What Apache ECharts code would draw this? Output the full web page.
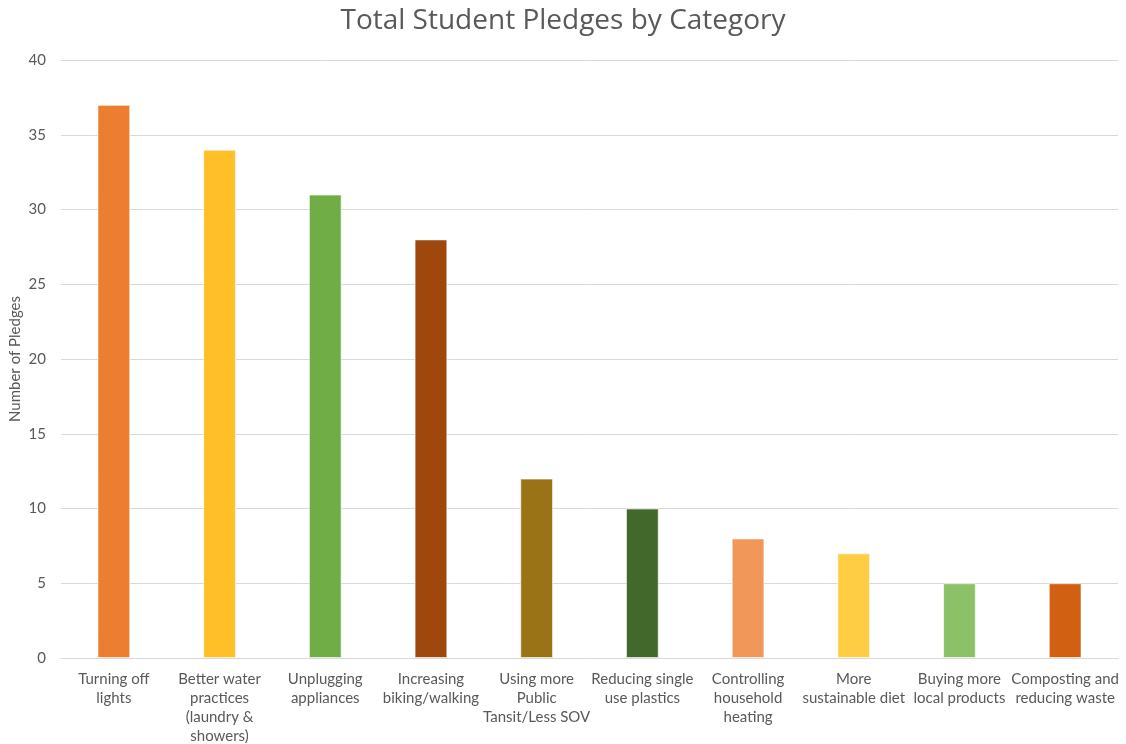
<!DOCTYPE html>
<html><head><meta charset="utf-8">
<script src="https://cdn.jsdelivr.net/npm/echarts@6/dist/echarts.min.js"></script>
<style>html,body{margin:0;padding:0;background:#fff}#c{width:1126px;height:744px}</style>
</head><body><div id="c"></div>
<script>
const categories = [
  'Turning off\nlights',
  'Better water\npractices\n(laundry &\nshowers)',
  'Unplugging\nappliances',
  'Increasing\nbiking/walking',
  'Using more\nPublic\nTansit/Less SOV',
  'Reducing single\nuse plastics',
  'Controlling\nhousehold\nheating',
  'More\nsustainable diet',
  'Buying more\nlocal products',
  'Composting and\nreducing waste'
];
const pledges = [37, 34, 31, 28, 12, 10, 8, 7, 5, 5];
const barColors = ['#ED7D31','#FFBF29','#70AD47','#9E480E','#997316','#43682B','#F1975A','#FFCD44','#8CC168','#D26012'];
const yTicks = {min: 0, max: 40, interval: 5};

const chart = echarts.init(document.getElementById('c'));
chart.setOption({
  animation: false,
  textStyle: {fontFamily: 'Lato, "Open Sans", sans-serif'},
  title: {
    text: 'Total Student Pledges by Category',
    left: 'center', top: 2,
    textStyle: {fontSize: 28, fontWeight: 'normal', color: '#595959', fontFamily: '"Open Sans", Lato, sans-serif'}
  },
  grid: {left: 61, right: 8, top: 60, bottom: 86, outerBoundsMode: 'none', containLabel: false},
  xAxis: {
    type: 'category',
    data: categories,
    axisTick: {show: false},
    axisLine: {lineStyle: {color: '#D9D9D9'}},
    axisLabel: {color: '#595959', fontSize: 15, lineHeight: 19, margin: 12, interval: 0}
  },
  yAxis: {
    type: 'value',
    min: yTicks.min, max: yTicks.max, interval: yTicks.interval,
    name: 'Number of Pledges',
    nameLocation: 'middle', nameGap: 38, nameMoveOverlap: false,
    nameTextStyle: {color: '#595959', fontSize: 15},
    axisLabel: {color: '#595959', fontSize: 15, margin: 15},
    splitLine: {lineStyle: {color: '#D9D9D9'}},
    axisLine: {show: false}, axisTick: {show: false}
  },
  series: [{
    type: 'bar',
    data: pledges.map((v, i) => ({value: v, itemStyle: {color: barColors[i]}})),
    barWidth: '31%',
    itemStyle: {borderColor: 'rgba(255,255,255,0.6)', borderWidth: 1}
  }]
});
</script></body></html>
